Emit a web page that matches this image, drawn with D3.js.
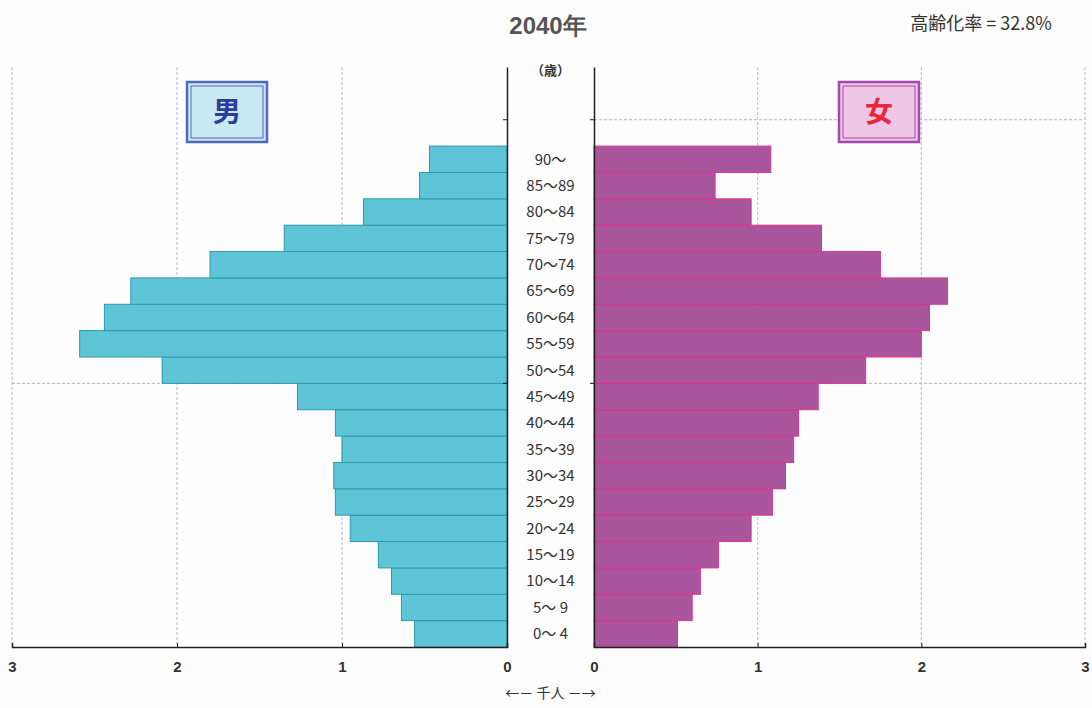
<!DOCTYPE html>
<html>
<head>
<meta charset="utf-8">
<script src="https://cdn.jsdelivr.net/npm/d3@7"></script>
<style>
  html, body { margin: 0; padding: 0; background: #fdfdfd; }
  svg { display: block; }
</style>
</head>
<body>
<svg id="chart" width="1092" height="708"></svg>
<script>
// Age groups (lower bound of each 5-year band), youngest first
const ageStarts = [0, 5, 10, 15, 20, 25, 30, 35, 40, 45, 50, 55, 60, 65, 70, 75, 80, 85, 90];
const ageLabels = ["0～ 4", "5～ 9", "10～14", "15～19", "20～24", "25～29", "30～34", "35～39",
                   "40～44", "45～49", "50～54", "55～59", "60～64", "65～69", "70～74", "75～79",
                   "80～84", "85～89", "90～"];
// Population in thousands
const male   = [0.56, 0.64, 0.70, 0.78, 0.95, 1.04, 1.05, 1.00, 1.04, 1.27, 2.09, 2.59, 2.44, 2.28, 1.80, 1.35, 0.87, 0.53, 0.47];
const female = [0.51, 0.60, 0.65, 0.76, 0.96, 1.09, 1.17, 1.22, 1.25, 1.37, 1.66, 2.00, 2.05, 2.16, 1.75, 1.39, 0.96, 0.74, 1.08];
const xTicks = [0, 1, 2, 3];
const ageGridLeft = [50];
const ageGridRight = [50, 100];
const ageTicks = [50, 100];
const titleText = "2040年";
const agingRate = "高齢化率 = 32.8%";

const svg = d3.select("#chart");
const jp = "'Noto Sans CJK JP', 'Noto Sans', sans-serif";

// Scales
const y = d3.scaleLinear().domain([0, 110]).range([647, 67]);
const xL = d3.scaleLinear().domain([0, 3]).range([507, 12]);
const xR = d3.scaleLinear().domain([0, 3]).range([594, 1085]);

const gridColor = "#b8b8b8";

// Vertical gridlines
[xL, xR].forEach(sc => {
  svg.append("g").selectAll("line").data(xTicks.filter(d => d > 0)).join("line")
    .attr("x1", d => sc(d)).attr("x2", d => sc(d))
    .attr("y1", y(110)).attr("y2", y(0))
    .attr("stroke", gridColor).attr("stroke-width", 1).attr("stroke-dasharray", "3,2");
});

// Horizontal gridlines
svg.append("g").selectAll("line").data(ageGridLeft).join("line")
  .attr("x1", xL(3)).attr("x2", xL(0))
  .attr("y1", d => y(d)).attr("y2", d => y(d))
  .attr("stroke", gridColor).attr("stroke-dasharray", "3,2");
svg.append("g").selectAll("line").data(ageGridRight).join("line")
  .attr("x1", xR(0)).attr("x2", xR(3))
  .attr("y1", d => y(d)).attr("y2", d => y(d))
  .attr("stroke", gridColor).attr("stroke-dasharray", "3,2");

// Male bars
svg.append("g").selectAll("rect").data(male).join("rect")
  .attr("x", d => xL(d))
  .attr("width", d => xL(0) - xL(d))
  .attr("y", (d, i) => y(ageStarts[i] + 5))
  .attr("height", (d, i) => y(ageStarts[i]) - y(ageStarts[i] + 5))
  .attr("fill", "#5ec5d6")
  .attr("stroke", "#2f98ae").attr("stroke-width", 1);

// Female bars
svg.append("g").selectAll("rect").data(female).join("rect")
  .attr("x", xR(0))
  .attr("width", d => xR(d) - xR(0))
  .attr("y", (d, i) => y(ageStarts[i] + 5))
  .attr("height", (d, i) => y(ageStarts[i]) - y(ageStarts[i] + 5))
  .attr("fill", "#a9569f")
  .attr("stroke", "#e0328f").attr("stroke-width", 1);

// Axes
const axL = svg.append("g").attr("transform", `translate(0,${y(0)})`)
  .call(d3.axisBottom(xL).tickValues(xTicks).tickSize(-4).tickPadding(14).tickFormat(d3.format("d")));
const axR = svg.append("g").attr("transform", `translate(0,${y(0)})`)
  .call(d3.axisBottom(xR).tickValues(xTicks).tickSize(-4).tickPadding(14).tickFormat(d3.format("d")));
[axL, axR].forEach(ax => {
  ax.select(".domain").attr("stroke", "#222").attr("stroke-width", 1.5);
  ax.selectAll(".tick line").attr("stroke", "#222");
  ax.selectAll(".tick text")
    .attr("font-family", "'Liberation Sans', Arial, sans-serif")
    .attr("font-size", 15).attr("font-weight", "bold").attr("fill", "#333");
});

// Vertical axis lines at zero with ticks at gridlines
const ayL = svg.append("g").attr("transform", `translate(${xL(0)},0)`)
  .call(d3.axisRight(y).tickValues(ageTicks).tickSize(0).tickFormat(""));
const ayR = svg.append("g").attr("transform", `translate(${xR(0)},0)`)
  .call(d3.axisLeft(y).tickValues(ageTicks).tickSize(0).tickFormat(""));
[ayL, ayR].forEach(ax => ax.select(".domain").attr("stroke", "#222").attr("stroke-width", 1.5));
[xL(0), xR(0)].forEach(x0 => {
  svg.append("g").selectAll("line").data(ageTicks).join("line")
    .attr("x1", x0 - 4).attr("x2", x0 + 1)
    .attr("y1", d => y(d)).attr("y2", d => y(d)).attr("stroke", "#222");
});

// Age labels in the middle
const midX = (xL(0) + xR(0)) / 2;
svg.append("g").selectAll("text").data(ageLabels).join("text")
  .attr("x", midX)
  .attr("y", (d, i) => y(ageStarts[i] + 2.5))
  .attr("dy", "0.36em")
  .attr("text-anchor", "middle")
  .attr("font-family", jp).attr("font-size", 15).attr("fill", "#333")
  .text(d => d);

svg.append("text").attr("x", midX).attr("y", 75)
  .attr("text-anchor", "middle").attr("font-family", jp).attr("font-size", 13)
  .attr("font-weight", "bold").attr("fill", "#333")
  .text("（歳）");

// Unit label
svg.append("text").attr("x", midX).attr("y", 698)
  .attr("text-anchor", "middle").attr("font-family", jp).attr("font-size", 14).attr("fill", "#333")
  .text("←－ 千人 －→");

// Title and aging rate
svg.append("text").attr("x", 548).attr("y", 34)
  .attr("text-anchor", "middle").attr("font-family", "'Liberation Sans', Arial, sans-serif")
  .attr("font-size", 24).attr("font-weight", "bold").attr("fill", "#555")
  .text(titleText);
svg.append("text").attr("x", 981).attr("y", 30)
  .attr("text-anchor", "middle").attr("font-family", jp)
  .attr("font-size", 18).attr("fill", "#333")
  .text(agingRate);

// Sex legend boxes
function sexBox(x0, y0, w, h, fill, border, txt, color) {
  const g = svg.append("g");
  g.append("rect").attr("x", x0).attr("y", y0).attr("width", w).attr("height", h)
    .attr("fill", fill).attr("stroke", border).attr("stroke-width", 2.5);
  g.append("rect").attr("x", x0 + 4).attr("y", y0 + 4).attr("width", w - 8).attr("height", h - 8)
    .attr("fill", "none").attr("stroke", border).attr("stroke-width", 1);
  g.append("text").attr("x", x0 + w / 2).attr("y", y0 + h / 2).attr("dy", "0.36em")
    .attr("text-anchor", "middle").attr("font-family", jp).attr("font-weight", "bold")
    .attr("font-size", 28).attr("fill", color).text(txt);
}
sexBox(187, 82, 80, 60, "#c8e8f2", "#5368c0", "男", "#2b3d9c");
sexBox(839, 82, 80, 60, "#f0c6e6", "#a14aa9", "女", "#e8283a");
</script>
</body>
</html>
